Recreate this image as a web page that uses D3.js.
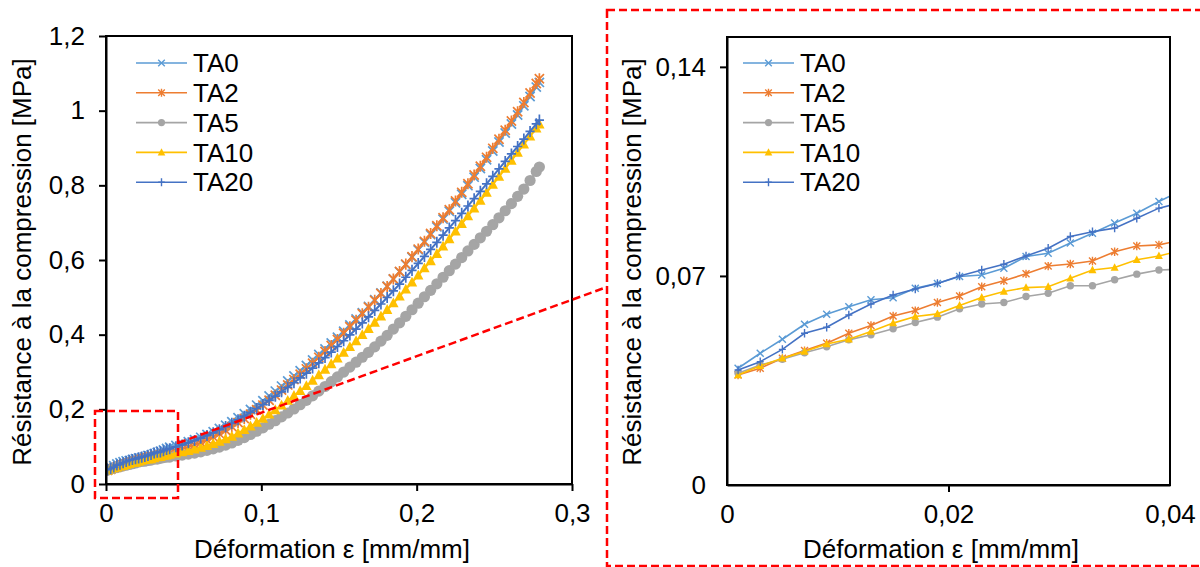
<!DOCTYPE html>
<html><head><meta charset="utf-8">
<script src="https://cdn.jsdelivr.net/npm/d3@7"></script>
<style>
body{margin:0;background:#fff}
svg{display:block}
text{font-family:"Liberation Sans",Arial,sans-serif;fill:#000}
</style>
</head><body>
<svg id="c" width="1200" height="567"></svg>
<script>
// ---------------- DATA ----------------
const strain = [0.001,0.003,0.005,0.007,0.009,0.011,0.013,0.015,0.017,0.019,0.021,0.023,0.025,0.027,0.029,0.031,0.033,0.035,0.037,0.039,0.041,
0.045,0.049,0.053,0.057,0.061,0.065,0.069,0.073,0.077,0.081,0.085,0.089,0.093,0.097,
0.101,0.105,0.109,0.113,0.117,0.121,0.125,0.129,0.133,0.137,0.141,0.145,0.149,0.153,0.157,
0.161,0.165,0.169,0.173,0.177,0.181,0.185,0.189,0.193,0.197,0.201,0.205,0.209,0.213,0.217,
0.221,0.225,0.229,0.233,0.237,0.241,0.245,0.249,0.253,0.257,0.261,0.265,0.269,0.273,0.277,0.279];

const TA0 = [0.0391,0.0441,0.0488,0.0538,0.0572,0.0597,0.0620,0.0627,0.0659,0.0675,0.0698,0.0703,0.0726,0.0765,0.0776,0.0810,0.0843,0.0877,0.0910,0.0949,0.0985,
0.103,0.1078,0.1132,0.1188,0.1249,0.1325,0.1401,0.1486,0.1574,0.1667,0.1775,0.1883,0.1997,0.2113,
0.2232,0.236,0.2488,0.2622,0.2758,0.2895,0.3035,0.3175,0.3321,0.3469,0.3619,0.3775,0.3931,0.4093,0.4257,
0.4422,0.459,0.4758,0.4935,0.5115,0.5298,0.549,0.5682,0.5877,0.6073,0.6271,0.6475,0.6679,0.6886,0.7094,
0.7307,0.7535,0.7763,0.7991,0.8219,0.8449,0.8685,0.8921,0.916,0.94,0.9641,0.9885,1.0129,1.0379,1.0631,1.0757];

const TA2 = [0.0368,0.0391,0.0424,0.0450,0.0475,0.0508,0.0534,0.0566,0.0584,0.0611,0.0633,0.0664,0.0684,0.0707,0.0733,0.0740,0.0750,0.0781,0.0800,0.0804,0.0820,
0.088,0.0928,0.0985,0.1045,0.1109,0.1185,0.1261,0.1349,0.1441,0.1537,0.1645,0.1753,0.187,0.199,
0.2113,0.2245,0.2377,0.2515,0.2655,0.2796,0.294,0.3084,0.3237,0.3393,0.355,0.371,0.387,0.4039,0.4211,
0.4384,0.456,0.4736,0.4918,0.5102,0.529,0.549,0.569,0.589,0.609,0.6292,0.65,0.6708,0.6919,0.7131,
0.7348,0.758,0.7812,0.8044,0.8276,0.851,0.875,0.899,0.9233,0.9477,0.9722,0.997,1.0218,1.0472,1.0728,1.0856];

const TA5 = [0.0374,0.0402,0.0421,0.0443,0.0463,0.0486,0.0503,0.0523,0.0544,0.0562,0.0590,0.0606,0.0611,0.0631,0.0642,0.0667,0.0667,0.0687,0.0706,0.0720,0.0722,
0.075,0.0774,0.0801,0.0829,0.086,0.09,0.094,0.0989,0.1041,0.1098,0.117,0.1242,0.1326,0.1414,
0.1504,0.16,0.1696,0.1798,0.1902,0.2009,0.2125,0.2241,0.2363,0.2487,0.2612,0.274,0.2868,0.2999,0.3131,
0.3263,0.3395,0.3527,0.3674,0.3826,0.3982,0.415,0.4318,0.4492,0.4668,0.4843,0.5015,0.5187,0.5362,0.5538,
0.5714,0.589,0.6066,0.6242,0.6418,0.6594,0.677,0.6946,0.7131,0.7319,0.7509,0.7705,0.7901,0.813,0.837,0.849];

const TA10 = [0.0368,0.0399,0.0424,0.0447,0.0472,0.0488,0.0514,0.0542,0.0564,0.0573,0.0601,0.0628,0.0648,0.0661,0.0664,0.0692,0.0720,0.0728,0.0754,0.0767,0.0785,
0.082,0.0852,0.089,0.093,0.0973,0.1025,0.1077,0.1138,0.1202,0.1272,0.136,0.1448,0.1545,0.1645,
0.1749,0.1865,0.1981,0.2106,0.2234,0.2363,0.2495,0.2627,0.2771,0.2919,0.3067,0.3215,0.3363,0.3517,0.3673,
0.3831,0.3995,0.4159,0.4326,0.4494,0.4665,0.4845,0.5025,0.5211,0.5399,0.5588,0.578,0.5972,0.6167,0.6363,
0.6561,0.6765,0.6969,0.7176,0.7384,0.7593,0.7805,0.8017,0.8232,0.8448,0.8664,0.888,0.9096,0.9312,0.9528,0.9636];

const TA20 = [0.0385,0.0413,0.0454,0.0508,0.0528,0.0569,0.0606,0.0636,0.0656,0.0675,0.0700,0.0720,0.0739,0.0767,0.0793,0.0832,0.0848,0.0860,0.0893,0.0927,0.0945,
0.0995,0.1047,0.1105,0.1165,0.1228,0.13,0.1372,0.1453,0.1537,0.1624,0.172,0.1816,0.1918,0.2022,
0.2128,0.224,0.2352,0.247,0.259,0.2712,0.284,0.2968,0.3105,0.3245,0.3387,0.3535,0.3683,0.3837,0.3993,
0.4151,0.4315,0.4479,0.4649,0.4821,0.4995,0.5175,0.5355,0.5538,0.5722,0.5907,0.6095,0.6283,0.6474,0.6666,
0.6859,0.7055,0.7251,0.7447,0.7643,0.784,0.804,0.824,0.844,0.864,0.884,0.904,0.924,0.9443,0.9647,0.9749];

const seriesNames = ["TA0","TA2","TA5","TA10","TA20"];
const seriesValues = [TA0, TA2, TA5, TA10, TA20];
const seriesColors = ["#5B9BD5","#ED7D31","#A5A5A5","#FFC000","#4472C4"];
const seriesMarkers = ["x","star","circle","triangle","plus"];

const leftXTicks = [0, 0.1, 0.2, 0.3];
const leftXLabels = ["0","0,1","0,2","0,3"];
const leftYTicks = [0, 0.2, 0.4, 0.6, 0.8, 1, 1.2];
const leftYLabels = ["0","0,2","0,4","0,6","0,8","1","1,2"];
const rightXTicks = [0, 0.02, 0.04];
const rightXLabels = ["0","0,02","0,04"];
const rightYTicks = [0, 0.07, 0.14];
const rightYLabels = ["0","0,07","0,14"];

const yTitle = "Résistance à la compression [MPa]";
const xTitle = "Déformation ε [mm/mm]";

// ---------------- DRAW ----------------
const svg = d3.select("#c");
const FS = 26;

function markerPath(type, s){
  switch(type){
    case "x": return `M${-s},${-s}L${s},${s}M${-s},${s}L${s},${-s}`;
    case "star": return `M${-s},${-s}L${s},${s}M${-s},${s}L${s},${-s}M0,${-s*1.2}L0,${s*1.2}`;
    case "plus": return `M${-s},0L${s},0M0,${-s*1.2}L0,${s*1.2}`;
    case "triangle": return `M0,${-s*1.1}L${s},${s*0.8}L${-s},${s*0.8}Z`;
  }
}
function drawMarker(g, type, color, cx, cy, s, sw){
  if(type==="circle"){
    g.append("circle").attr("cx",cx).attr("cy",cy).attr("r",s).attr("fill",color);
  } else if(type==="triangle"){
    g.append("path").attr("d",markerPath(type,s)).attr("transform",`translate(${cx},${cy})`).attr("fill",color);
  } else {
    g.append("path").attr("d",markerPath(type,s)).attr("transform",`translate(${cx},${cy})`)
      .attr("fill","none").attr("stroke",color).attr("stroke-width",sw||1.4);
  }
}

function chart(opt){
  const {x, y, xTicks, xLabels, yTicks, yLabels, id, msize, msw, lw, xShow, yShow, legendX, xTitleX, yTitleX} = opt;
  const [x0,x1] = x.range(); const [y1,y0] = y.range();
  const g = svg.append("g");
  g.append("clipPath").attr("id",id).append("rect")
    .attr("x",x0).attr("y",y0).attr("width",x1-x0).attr("height",y1-y0);
  const plot = g.append("g").attr("clip-path",`url(#${id})`);
  const line = d3.line().x(d=>x(d[0])).y(d=>y(d[1]));
  const xmax = x.domain()[1];
  seriesValues.forEach((vals,i)=>{
    const pts = strain.map((s,k)=>[s, vals[k]]);
    plot.append("path").datum(pts).attr("d",line).attr("fill","none")
      .attr("stroke",seriesColors[i]).attr("stroke-width",lw);
    const mg = plot.append("g");
    pts.filter(p=>p[0]<=xmax).forEach(p=>drawMarker(mg, seriesMarkers[i], seriesColors[i], x(p[0]), y(p[1]), msize[i], msw));
  });
  // frame
  g.append("rect").attr("x",x0).attr("y",y0).attr("width",x1-x0).attr("height",y1-y0)
    .attr("fill","none").attr("stroke","#000").attr("stroke-width",2);
  // axes
  const ax = g.append("g").attr("transform",`translate(0,${y1})`)
    .call(d3.axisBottom(x).tickValues(xTicks).tickFormat((d,i)=>xLabels[i]).tickSize(7).tickSizeOuter(0).tickPadding(13));
  const ay = g.append("g").attr("transform",`translate(${x0},0)`)
    .call(d3.axisLeft(y).tickValues(yTicks).tickFormat((d,i)=>yLabels[i]).tickSize(7).tickSizeOuter(0).tickPadding(14));
  [ax,ay].forEach(a=>{
    a.attr("font-family",null).attr("font-size",null);
    a.select(".domain").attr("stroke","#000").attr("stroke-width",2);
    a.selectAll(".tick line").attr("stroke","#000").attr("stroke-width",2);
    a.selectAll(".tick text").style("font-size",FS+"px");
  });
  ax.selectAll(".tick line").attr("opacity",(d,i)=>xShow[i]?1:0);
  ay.selectAll(".tick line").attr("opacity",(d,i)=>yShow[i]?1:0);
  // titles
  g.append("text").attr("x",xTitleX).attr("y",558).attr("text-anchor","middle")
    .style("font-size",FS+"px").text(xTitle);
  g.append("text").attr("transform",`translate(${yTitleX},262) rotate(-90)`)
    .attr("text-anchor","middle").attr("dy","0.35em").style("font-size",FS+"px").text(yTitle);
  // legend
  const lg = g.append("g");
  seriesNames.forEach((n,i)=>{
    const ly = 63 + i*29.8;
    lg.append("line").attr("x1",legendX).attr("x2",legendX+51).attr("y1",ly).attr("y2",ly)
      .attr("stroke",seriesColors[i]).attr("stroke-width",1.6);
    drawMarker(lg, seriesMarkers[i], seriesColors[i], legendX+25.5, ly, [3.3,3.3,3.6,3.8,3.3][i]);
    lg.append("text").attr("x",legendX+57).attr("y",ly).attr("dy","0.35em")
      .style("font-size",FS+"px").text(n);
  });
}

chart({
  id:"clipL",
  x: d3.scaleLinear([0,0.3],[106,572]),
  y: d3.scaleLinear([0,1.2],[484,36]),
  xTicks:leftXTicks, xLabels:leftXLabels, yTicks:leftYTicks, yLabels:leftYLabels,
  xShow:[1,1,1,1], yShow:[1,1,1,1,1,1,1],
  msize:[4.6,4.6,5.6,5.2,4.6], msw:1.7, lw:2, legendX:136, xTitleX:332, yTitleX:22
});
chart({
  id:"clipR",
  x: d3.scaleLinear([0,0.04],[727,1170]),
  y: d3.scaleLinear([0,0.15],[485,37]),
  xTicks:rightXTicks, xLabels:rightXLabels, yTicks:rightYTicks, yLabels:rightYLabels,
  xShow:[0,1,0], yShow:[0,1,1],
  msize:[3.5,3.5,3.7,4,3.5], msw:1.4, lw:1.6, legendX:743, xTitleX:941, yTitleX:632
});

// zoom annotation (red dashed)
const ann = svg.append("g").attr("fill","none").attr("stroke","#FF0000")
  .attr("stroke-width",2.5).attr("stroke-dasharray","8,4");
ann.append("rect").attr("x",95).attr("y",411).attr("width",83).attr("height",87);
ann.append("line").attr("x1",178).attr("y1",443).attr("x2",607).attr("y2",287);
ann.append("rect").attr("x",607).attr("y",10).attr("width",600).attr("height",556);
</script>
</body></html>
